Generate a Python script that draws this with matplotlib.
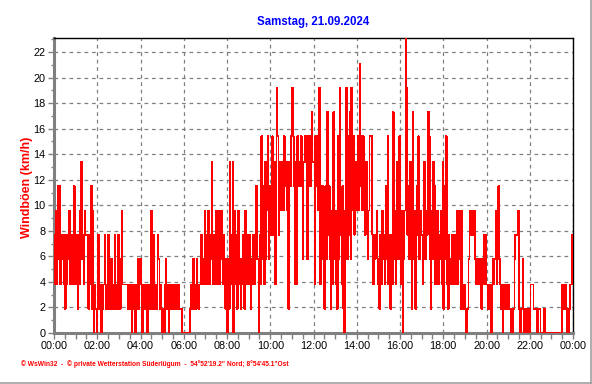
import matplotlib
matplotlib.use("Agg")
import matplotlib.pyplot as plt
from matplotlib.ticker import MultipleLocator, FixedLocator
from matplotlib.lines import Line2D

# --- data: gust level per 2.5 minutes, one string per hour ---
# each character is an index (hex digit) into the sensor's km/h steps below
level_kmh = [0.0, 1.9, 3.8, 5.8, 7.7, 9.6, 11.5, 13.4, 15.4, 17.3, 19.2, 21.1, 23.0]

h00 = "425263624342142435242462"
h01 = "421425734254441426150210"
h02 = "141202124121421312141214"
h03 = "213522222212120121021312"
h04 = "310212102121514212143121"
h05 = "010231201212212121211100"
h06 = "000000012131213212242325"
h07 = "242524372424525253524213"
h08 = "031724705241523132415234"
h09 = "241324236630428362735836"
h10 = "4684725a8475675867571768"
h11 = "a86272867686378783786897"
h12 = "728685a26364163946315293"
h13 = "52183a426105a38493a58475"
h14 = "685b68586475358884243452"
h15 = "314253426382414293524738"
h16 = "425035ca4637419351468354"
h17 = "425735498315376245243527"
h18 = "136821423423423525315212"
h19 = "101134545453232323123424"
h20 = "212120232352563212012121"
h21 = "211010134445101131011010"
h22 = "022211110111000010000000"
h23 = "000000000000212210101224"

hours = [h00, h01, h02, h03, h04, h05, h06, h07, h08, h09, h10, h11,
         h12, h13, h14, h15, h16, h17, h18, h19, h20, h21, h22, h23]

x_tick_labels = ["00:00", "02:00", "04:00", "06:00", "08:00", "10:00", "12:00",
                 "14:00", "16:00", "18:00", "20:00", "22:00", "00:00"]
title = "Samstag, 21.09.2024"
ylabel = "Windböen (km/h)"
footer = "© WsWin32  -  © private Wetterstation Süderlügum  -  54°52'19.2\" Nord; 8°54'45.1\"Ost"

# --- build series ---
levels = [int(c, 16) for hr in hours for c in hr]
values = [level_kmh[lv] for lv in levels]
step_h = 24 / len(values)
times = [i * step_h for i in range(len(values))]
times.append(24.0)
values.append(values[-1])

plt.rcParams['font.family'] = ['Liberation Sans', 'DejaVu Sans']

fig = plt.figure(figsize=(5.92, 3.84), dpi=100)
ax = fig.add_axes([54 / 592, 1 - 333 / 384, (573 - 54) / 592, (333 - 38) / 384])

ax.plot(times, values, drawstyle='steps-post', color='#ff0000', lw=0.5,
        solid_joinstyle='miter', antialiased=False, zorder=3)

ax.set_xlim(0, 24)
ax.set_ylim(0, 23.1)

ax.xaxis.set_major_locator(FixedLocator(list(range(0, 25, 2))))
ax.set_xticklabels(x_tick_labels)
ax.xaxis.set_minor_locator(MultipleLocator(0.5))
ax.yaxis.set_major_locator(MultipleLocator(2))
ax.yaxis.set_minor_locator(MultipleLocator(1))

ax.grid(True, which='major', color='#808080', linestyle=(0, (3, 3)), lw=0.9, zorder=1)

ax.tick_params(axis='both', which='major', direction='out', length=4, width=1,
               color='#808080', labelsize=7.8, labelcolor='black', pad=2)
ax.tick_params(axis='x', which='minor', direction='out', length=4, width=1, color='#808080')
ax.tick_params(axis='y', which='minor', direction='out', length=2, width=1, color='#808080')

for side in ('left', 'bottom'):
    ax.spines[side].set_color('#808080')
    ax.spines[side].set_linewidth(2.2)
for side in ('top', 'right'):
    ax.spines[side].set_color('black')
    ax.spines[side].set_linewidth(1.0)

fig.text(313.5 / 592, 1 - 22 / 384, title, color='#0000ff', fontsize=8.3,
         fontweight='bold', ha='center', va='center')
fig.text(27 / 592, 1 - 187 / 384, ylabel, color='#ff0000', fontsize=9,
         fontweight='bold', rotation=90, ha='center', va='center')
fig.text(21 / 592, 1 - 364 / 384, footer, color='#ff0000', fontsize=4.8,
         fontweight='bold', ha='left', va='center')

# frame border lines (bottom and right of the image)
fig.add_artist(Line2D([0, 1], [1.5 / 384, 1.5 / 384], transform=fig.transFigure,
                      color='#a0a0a0', lw=1.2))
fig.add_artist(Line2D([1 - 1.5 / 592, 1 - 1.5 / 592], [0, 1], transform=fig.transFigure,
                      color='#a0a0a0', lw=1.2))

fig.savefig("out.png", dpi=100)
